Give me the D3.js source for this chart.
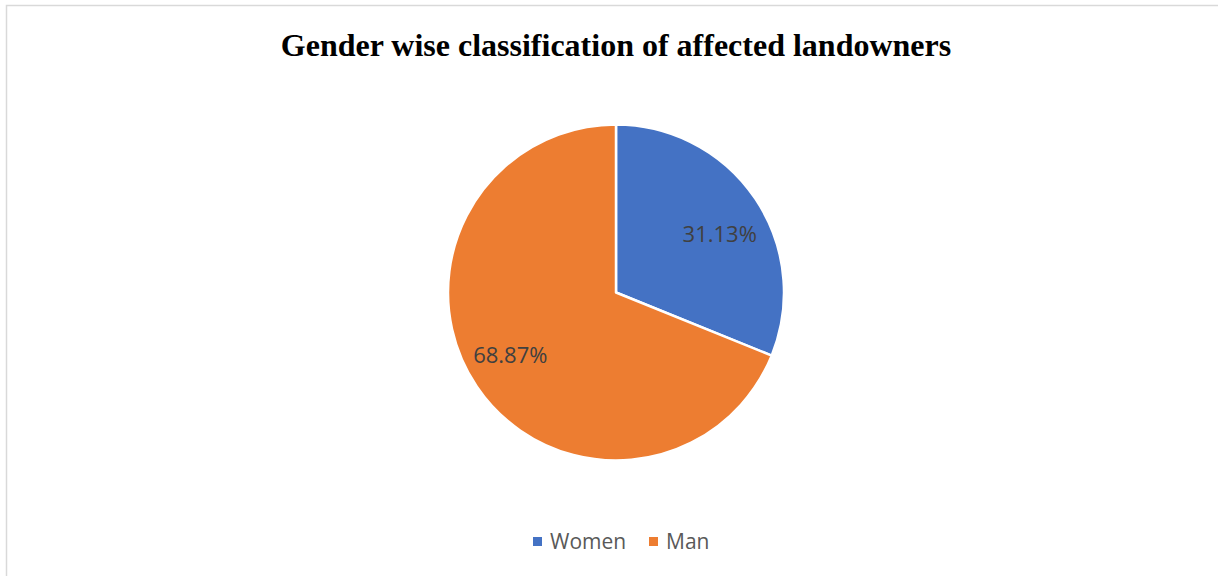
<!DOCTYPE html>
<html><head><meta charset="utf-8">
<script src="https://cdn.jsdelivr.net/npm/d3@7"></script>
<style>body{margin:0;background:#fff}</style>
</head><body>
<script>
const categories = ["Women", "Man"];
const values = [31.13, 68.87];
const labels = ["31.13%", "68.87%"];
const colors = ["#4472C4", "#ED7D31"];

const W = 1218, H = 576;
const svg = d3.select("body").append("svg").attr("width", W).attr("height", H);
svg.append("rect").attr("x", 6.5).attr("y", 5.5).attr("width", W + 10).attr("height", H + 10)
  .attr("fill", "#fff").attr("stroke", "#d9d9d9").attr("stroke-width", 1.5);

svg.append("text").attr("x", 616).attr("y", 56).attr("text-anchor", "middle")
  .attr("font-family", "Liberation Serif, Times New Roman, serif").attr("font-weight", "bold")
  .attr("font-size", 32).attr("fill", "#000").text("Gender wise classification of affected landowners");

const cx = 616, cy = 292.5, r = 168;
const pie = d3.pie().sort(null).value(d => d)(values);
const arc = d3.arc().innerRadius(0).outerRadius(r);
const labelArc = d3.arc().innerRadius(r * 0.73).outerRadius(r * 0.73);
const nudge = [[2, 10], [-4, -6]];
const g = svg.append("g").attr("transform", `translate(${cx},${cy})`);
g.selectAll("path").data(pie).join("path")
  .attr("d", arc).attr("fill", (d, i) => colors[i])
  .attr("stroke", "#fff").attr("stroke-width", 2.5).attr("stroke-linejoin", "round");
g.selectAll("text").data(pie).join("text")
  .attr("transform", (d, i) => { const c = labelArc.centroid(d); return `translate(${c[0] + nudge[i][0]},${c[1] + nudge[i][1]})`; })
  .attr("text-anchor", "middle").attr("dy", "0.35em")
  .attr("font-family", "Open Sans, sans-serif").attr("font-size", 22).attr("fill", "#404040")
  .text((d, i) => labels[i]);

const legend = svg.append("g");
const lx = [533, 649];
categories.forEach((c, i) => {
  legend.append("rect").attr("x", lx[i]).attr("y", 537).attr("width", 9).attr("height", 9).attr("fill", colors[i]);
  legend.append("text").attr("x", lx[i] + 17).attr("y", 549).attr("font-family", "Open Sans, sans-serif")
    .attr("font-size", 21).attr("fill", "#595959").text(c);
});
</script>
</body></html>
